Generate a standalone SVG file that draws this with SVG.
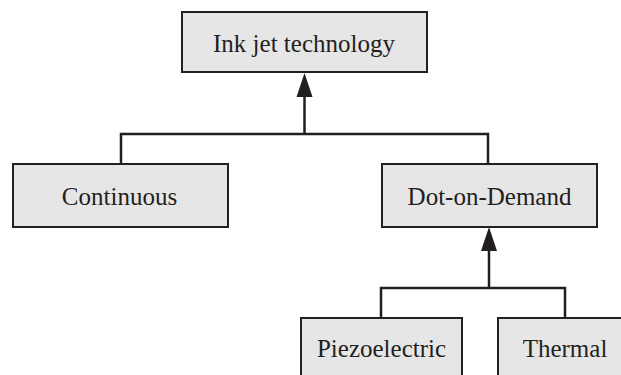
<svg xmlns="http://www.w3.org/2000/svg" width="621" height="375" viewBox="0 0 621 375">
  <style>
    .box rect { fill: #e6e6e6; stroke: #231f20; stroke-width: 2; }
    .box text { font-family: "Liberation Serif", "Times New Roman", serif; font-size: 25px; fill: #231f20; text-anchor: middle; }
    .conn { fill: none; stroke: #231f20; stroke-width: 2.5; }
  </style>

  <g id="connectors">
    <!-- Continuous / Dot-on-Demand up to Ink jet technology -->
    <path class="conn" d="M121 164 V134 H488 V164"/>
    <path class="conn" d="M304.5 134 V80"/>
    <path d="M304.5 73 L312.5 97 L296.5 97 Z" fill="#231f20"/>
    <!-- Piezoelectric / Thermal up to Dot-on-Demand -->
    <path class="conn" d="M381 318 V288 H565 V318"/>
    <path class="conn" d="M489 288 V235"/>
    <path d="M489 227 L497 251 L481 251 Z" fill="#231f20"/>
  </g>

  <g id="ink-jet-technology" class="box">
    <rect x="182" y="12" width="245" height="60"/>
    <text x="304" y="52">Ink jet technology</text>
  </g>
  <g id="continuous" class="box">
    <rect x="13" y="164" width="215" height="63"/>
    <text x="119.5" y="205">Continuous</text>
  </g>
  <g id="dot-on-demand" class="box">
    <rect x="382" y="164" width="215" height="63"/>
    <text x="489.5" y="205">Dot-on-Demand</text>
  </g>
  <g id="piezoelectric" class="box">
    <rect x="301" y="318" width="161" height="70"/>
    <text x="381.5" y="357">Piezoelectric</text>
  </g>
  <g id="thermal" class="box">
    <rect x="498" y="318" width="140" height="70"/>
    <text x="565" y="357">Thermal</text>
  </g>
</svg>
